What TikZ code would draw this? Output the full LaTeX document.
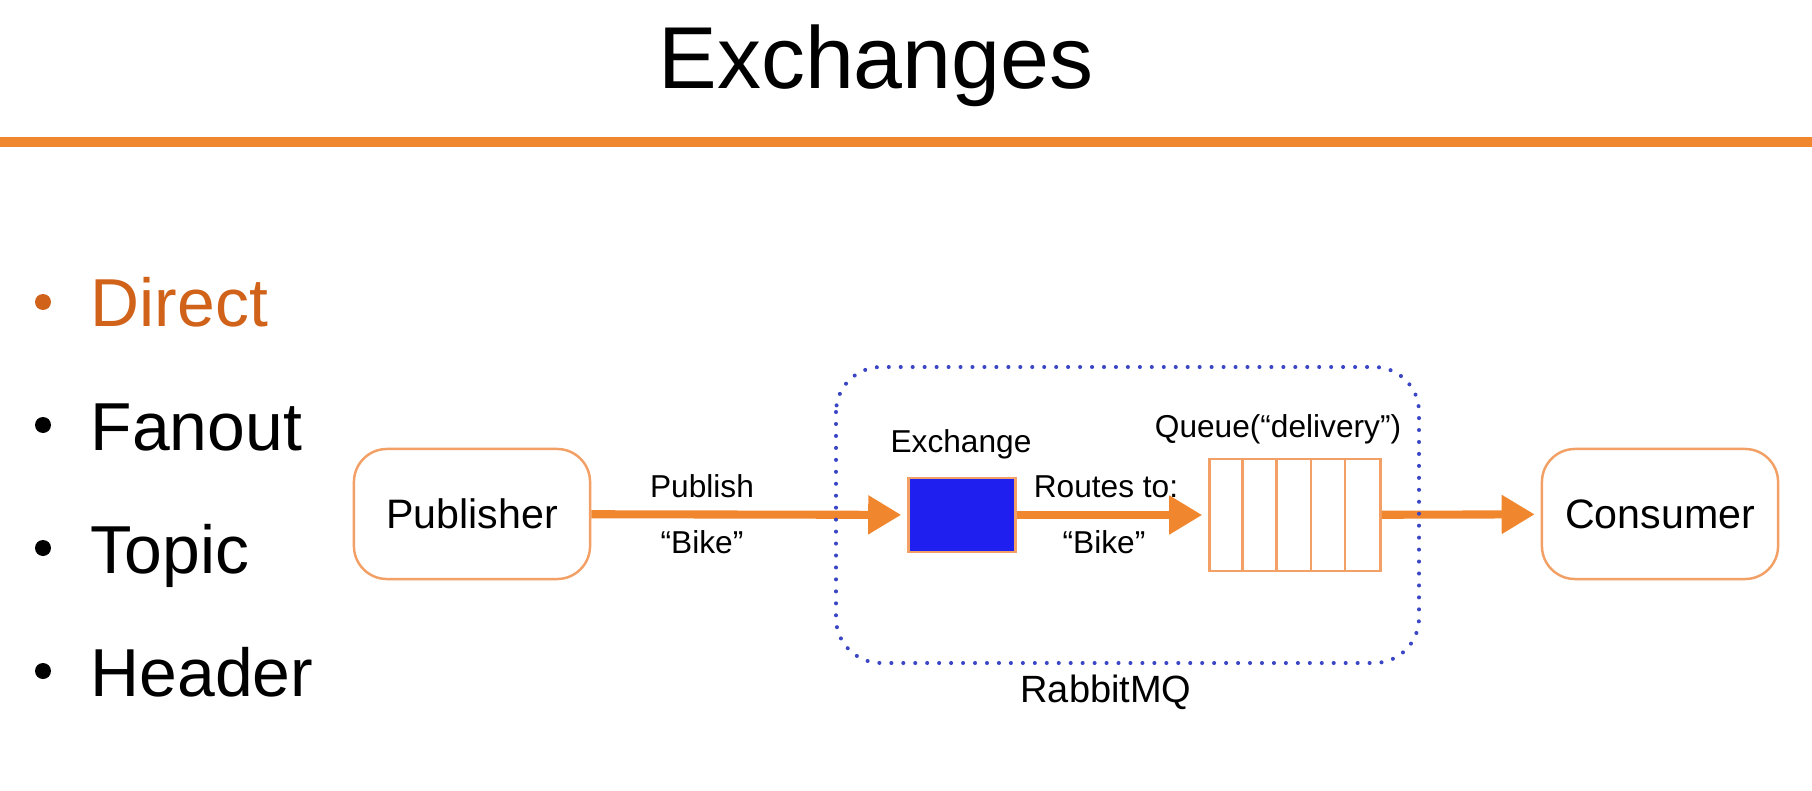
\documentclass[tikz,border=0pt]{standalone}
\usepackage{fontspec}
\setmainfont{Liberation Sans}
\usetikzlibrary{arrows.meta}
\definecolor{rmqorange}{HTML}{F0872E}
\definecolor{boxedge}{HTML}{F2A065}
\definecolor{directorange}{HTML}{D0621A}
\definecolor{rmqblue}{HTML}{3A46C4}
\definecolor{exfill}{HTML}{1F1FF0}
\tikzset{
	box/.style={draw=boxedge, line width=0.7pt, rounded corners=0.33cm, minimum width=2.36cm, minimum height=1.3cm, font=\fontsize{11.7}{14}\selectfont},
	flow/.style={draw=rmqorange, line width=2.3pt, -{Triangle[length=0.33cm,width=0.37cm]}, shorten >=0.06cm},
	lbl/.style={anchor=base, inner sep=0pt, font=\fontsize{9}{11}\selectfont},
	item/.style={anchor=base west, inner sep=0pt, font=\fontsize{19.3}{23}\selectfont},
}
\begin{document}
\begin{tikzpicture}[x=0.01cm,y=0.01cm]
	\useasboundingbox (0,0) rectangle (1812,-791);
	\node[anchor=base, inner sep=0pt, font=\fontsize{25}{30}\selectfont] (title) at (876,-89) {Exchanges};
	\draw[rmqorange, line width=2.85pt] (0,-142) -- (1812,-142);
	\foreach \name/\y/\col in {Direct/327/directorange, Fanout/450/black, Topic/573/black, Header/696/black}{
		\fill[\col] (43,-\y+25) circle (8);
		\node[item, text=\col] (\name) at (90,-\y) {\name};
	}
	\node[box] (pub) at (472,-514) {Publisher};
	\node[draw=boxedge, fill=exfill, line width=0.7pt, minimum width=1.07cm, minimum height=0.74cm] (ex) at (962,-515) {};
	\node[draw=boxedge, line width=0.7pt, minimum width=1.71cm, minimum height=1.12cm] (queue) at (1295,-515) {};
	\foreach \i in {1,...,4}
		\draw[boxedge, line width=0.7pt] ([xshift=\i*0.342cm]queue.south west) -- ([xshift=\i*0.342cm]queue.north west);
	\node[box] (cons) at (1660,-514) {Consumer};
	\draw[flow] (pub) -- (ex);
	\draw[flow] (ex) -- (queue);
	\draw[flow] (queue) -- (cons);
	\node[lbl] (publish) at (702,-497) {Publish};
	\node[lbl] (pubkey) at (702,-553) {“Bike”};
	\node[lbl] (exlabel) at (961,-452) {Exchange};
	\node[lbl] (routes) at (1106,-497) {Routes to:};
	\node[lbl] (routekey) at (1104,-553) {“Bike”};
	\node[lbl] (qlabel) at (1278,-437) {Queue(“delivery”)};
	\draw[rmqblue, line width=1.15pt, line cap=round, dash pattern=on 0pt off 3.4pt, rounded corners=0.45cm] (836,-367) rectangle (1419,-663);
	\node[lbl, font=\fontsize{10.8}{13}\selectfont] (rmq) at (1106,-702) {RabbitMQ};
\end{tikzpicture}
\end{document}
